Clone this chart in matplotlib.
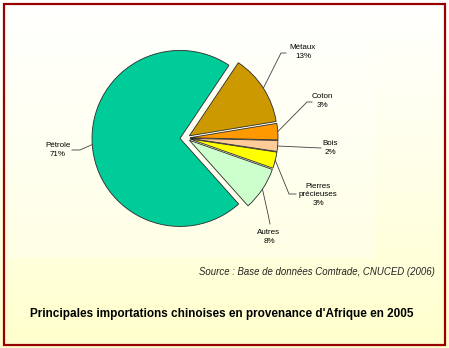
import numpy as np
import matplotlib
matplotlib.use("Agg")
import matplotlib.pyplot as plt
from matplotlib.colors import LinearSegmentedColormap
from matplotlib.patches import Rectangle

W, H = 449, 348

categories = ["Pétrole", "Métaux", "Coton", "Bois", "Pierres\nprécieuses", "Autres"]
shares = [71, 13, 3, 2, 3, 8]
colors = ["#00CC99", "#CC9900", "#FF9900", "#FFCC99", "#FFFF00", "#CCFFCC"]
# offsets in pixels (pie explode is in data units here)
explode = [6, 4, 4, 4, 4, 4]

title = "Principales importations chinoises en provenance d'Afrique en 2005"
source = "Source : Base de données Comtrade, CNUCED (2006)"

# label centres and leader elbows, in pixels from the top-left corner
label_pos = [(58, 150), (303, 52), (322, 101), (330, 148), (318, 195), (269, 237)]
elbows = [[(80, 150), (72, 150)],
          [(281, 53), (286, 53)],
          [(307, 102), (312, 102)],
          [(321, 148)],
          [(289, 194), (296, 194)],
          [(268, 214), (270, 224)]]


def px(x, y):
    return x, H - y


fig = plt.figure(figsize=(W / 100, H / 100), dpi=100)
ax = fig.add_axes([0, 0, 1, 1])

# pale yellow gradient behind everything, white at the top
grad = np.linspace(0, 1, 256).reshape(-1, 1)
cmap = LinearSegmentedColormap.from_list("bg", ["#FFFFFF", "#FFFFE8", "#FFFFCC"])
ax.imshow(grad, cmap=cmap, extent=(0, W, 0, H), origin="upper", aspect="auto", zorder=0)
ax.add_patch(Rectangle(px(8, 258), 368, 224, facecolor="white", alpha=0.3,
                       edgecolor="none", zorder=1))

r = 88
wedges, _ = ax.pie(shares, colors=colors, explode=explode, radius=r,
                   center=px(186, 138), startangle=-48.2, counterclock=False,
                   wedgeprops=dict(edgecolor="#2a2a2a", linewidth=0.6))
for w in wedges:
    w.set_zorder(3)

for w, name, share, lp, el in zip(wedges, categories, shares, label_pos, elbows):
    mid = np.radians((w.theta1 + w.theta2) / 2)
    cx, cy = w.center
    x0, y0 = cx + r * np.cos(mid), cy + r * np.sin(mid)
    pts = [(x0, y0)] + [px(*p) for p in el]
    ax.plot([p[0] for p in pts], [p[1] for p in pts], color="#404040",
            lw=0.6, zorder=4)
    ax.text(*px(*lp), f"{name}\n{share}%", ha="center", va="center",
            fontsize=5.8, family="Liberation Sans", linespacing=1.35, zorder=5)

ax.text(*px(435, 272), source, ha="right", va="center", fontsize=6.9,
        style="italic", family="Liberation Sans", color="#222222", zorder=5)
ax.text(*px(222, 314), title, ha="center", va="center", fontsize=8.5,
        weight="bold", family="Liberation Sans", zorder=5)

# dark red frame
ax.add_patch(Rectangle(px(3.5, 345), 441.5, 341.5, facecolor="none",
                       edgecolor="#990000", linewidth=1.6, zorder=6))

ax.set_xlim(0, W)
ax.set_ylim(0, H)
ax.set_aspect("auto")
ax.axis("off")

fig.savefig("out.png", dpi=100)
